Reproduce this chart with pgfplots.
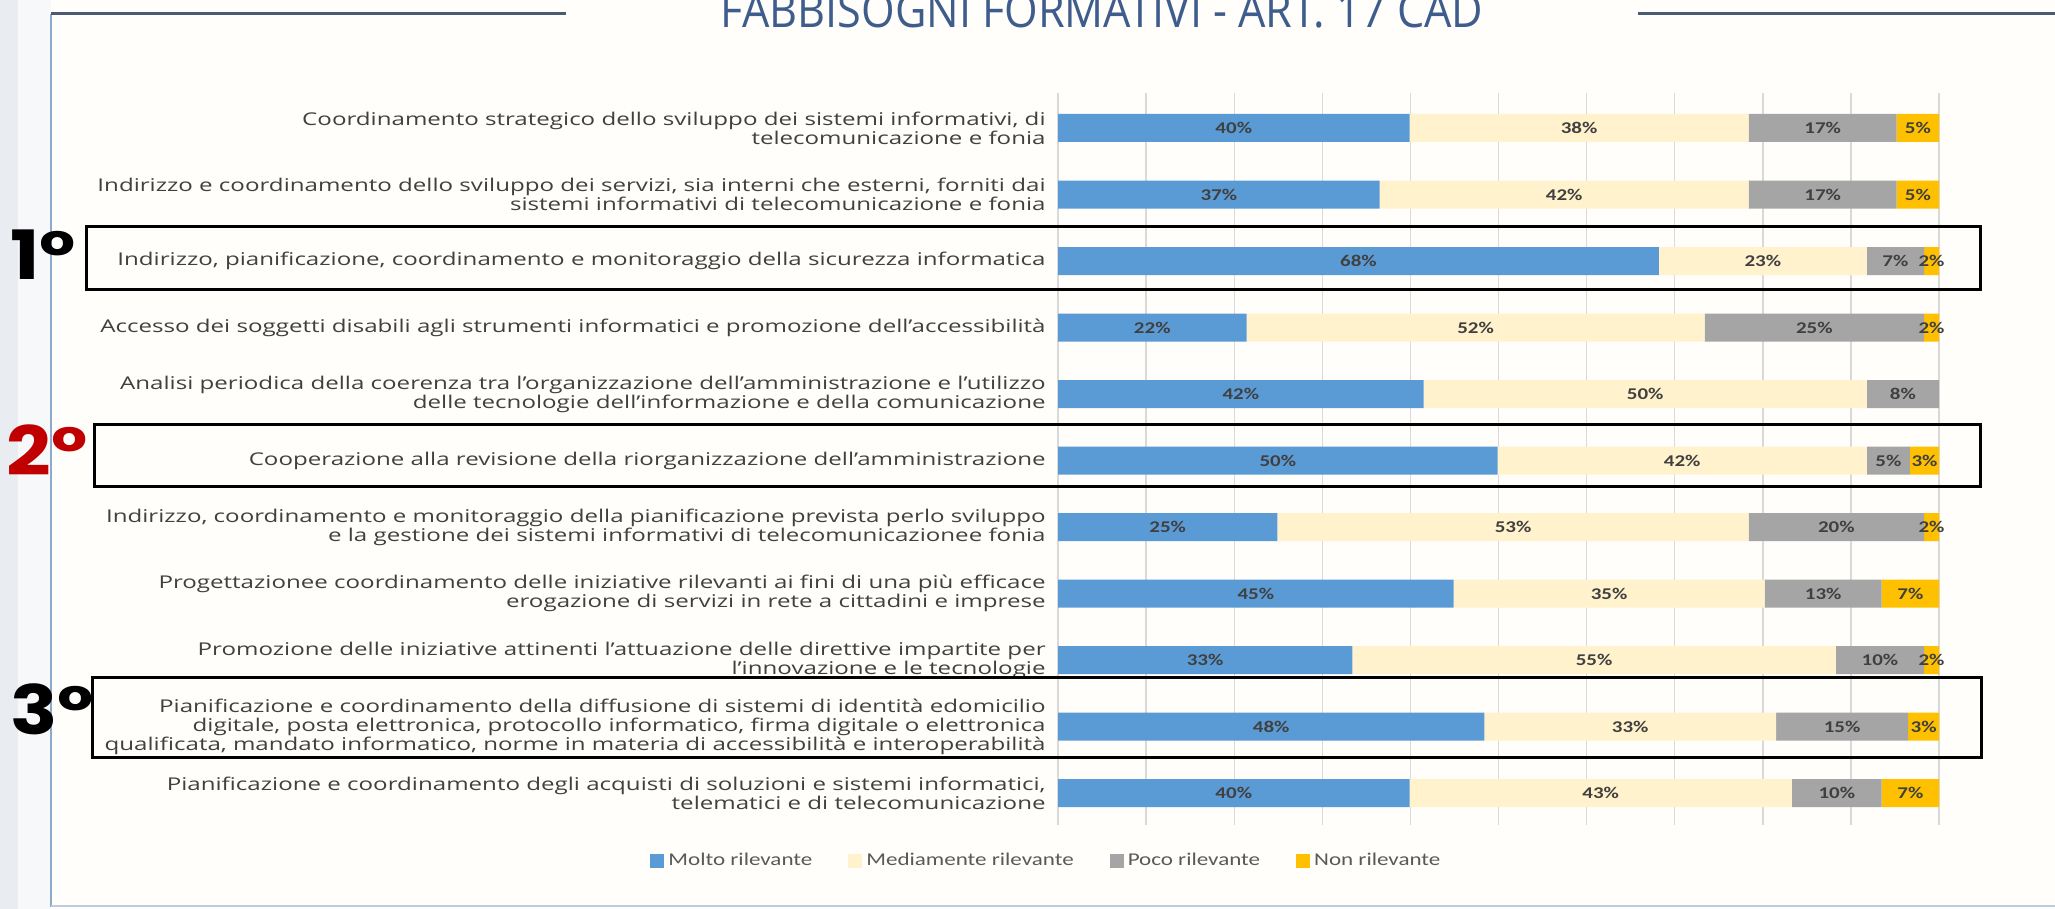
\documentclass[border=0pt]{standalone}
\usepackage{fontspec}
\usepackage{pgfplots}
\usepackage{pgfplotstable}
\pgfplotsset{compat=1.18}
\newfontfamily\labfont[FakeStretch=1.37]{Open Sans}
\newfontfamily\pctfont[FakeStretch=1.28]{Carlito}
\newfontfamily\titfont[FakeStretch=0.9]{Open Sans}
\newfontfamily\ordfont[FakeStretch=1.15]{Poppins}
\definecolor{cblue}{HTML}{5B9BD5}
\definecolor{ccream}{HTML}{FFF2CC}
\definecolor{cgray}{HTML}{A5A5A5}
\definecolor{cgold}{HTML}{FFC000}
\definecolor{labgray}{HTML}{404040}
\definecolor{leggray}{HTML}{595959}
\definecolor{titblue}{HTML}{3E5C8C}
\definecolor{ordred}{HTML}{C00000}
\definecolor{gridc}{HTML}{D9D9D9}
\definecolor{framel}{HTML}{8EA9CC}
\definecolor{framet}{HTML}{4B5B73}
\definecolor{bgleft}{HTML}{E9EDF2}
\definecolor{bgmid}{HTML}{F6F8FA}
\definecolor{bgin}{HTML}{FFFEFB}

\pgfplotstableread{
idx A B C D la lb lc ld
1 39.9 38.5 16.8 4.8 40\% 38\% 17\% 5\%
2 36.5 41.9 16.8 4.8 37\% 42\% 17\% 5\%
3 68.2 23.6 6.5 1.7 68\% 23\% 7\% 2\%
4 21.4 52.0 24.9 1.7 22\% 52\% 25\% 2\%
5 41.5 50.3 8.2 0 42\% 50\% 8\% {}
6 49.9 41.9 4.9 3.3 50\% 42\% 5\% 3\%
7 24.9 53.5 19.9 1.7 25\% 53\% 20\% 2\%
8 44.9 35.3 13.3 6.5 45\% 35\% 13\% 7\%
9 33.4 54.9 10.0 1.7 33\% 55\% 10\% 2\%
10 48.4 33.1 15.0 3.5 48\% 33\% 15\% 3\%
11 39.9 43.4 10.2 6.5 40\% 43\% 10\% 7\%
}\data

\pgfplotsset{
  common/.style={
    at={(529pt,-412.5pt)}, anchor=south west,
    scale only axis, width=440.5pt, height=366pt,
    xmin=0, xmax=100, ymin=0.474, ymax=11.48, y dir=reverse,
  }
}

\begin{document}
\begin{tikzpicture}
\useasboundingbox (0,0) rectangle (1027.5pt,-454.5pt);
\clip (0,0) rectangle (1027.5pt,-454.5pt);
\begin{scope}[x=0.5pt,y=-0.5pt]
\fill[bgin] (0,0) rectangle (2055,909);
\fill[bgmid] (0,0) rectangle (51,909);
\fill[bgleft] (0,0) rectangle (18,909);
\draw[framel, line width=1.25pt] (51,14) -- (51,907);
\draw[framel!60, line width=1pt] (51,906) -- (2055,906);
\draw[framet, line width=1.5pt] (51,14) -- (566,14);
\draw[framet, line width=1.5pt] (1638,14) -- (2055,14);
\node[anchor=base, font=\titfont\fontsize{24}{24}\selectfont, text=titblue, inner sep=0pt] at (1102,28) {FABBISOGNI FORMATIVI - ART. 17 CAD};
\end{scope}

\begin{axis}[common,
  xbar stacked, bar width=14pt,
  xtick={0,10,...,100}, xticklabels={}, xmajorgrids,
  major grid style={gridc, line width=0.7pt},
  ytick={1,...,11},
  yticklabels={
    {Coordinamento strategico dello sviluppo dei sistemi informativi, di\\telecomunicazione e fonia},
    {Indirizzo e coordinamento dello sviluppo dei servizi, sia interni che esterni, forniti dai\\sistemi informativi di telecomunicazione e fonia},
    {Indirizzo, pianificazione, coordinamento e monitoraggio della sicurezza informatica},
    {Accesso dei soggetti disabili agli strumenti informatici e promozione dell’accessibilità},
    {Analisi periodica della coerenza tra l’organizzazione dell’amministrazione e l’utilizzo\\delle tecnologie dell’informazione e della comunicazione},
    {Cooperazione alla revisione della riorganizzazione dell’amministrazione},
    {Indirizzo, coordinamento e monitoraggio della pianificazione prevista perlo sviluppo\\e la gestione dei sistemi informativi di telecomunicazionee fonia},
    {Progettazionee coordinamento delle iniziative rilevanti ai fini di una più efficace\\erogazione di servizi in rete a cittadini e imprese},
    {Promozione delle iniziative attinenti l’attuazione delle direttive impartite per\\l’innovazione e le tecnologie},
    {Pianificazione e coordinamento della diffusione di sistemi di identità edomicilio\\digitale, posta elettronica, protocollo informatico, firma digitale o elettronica\\qualificata, mandato informatico, norme in materia di accessibilità e interoperabilità},
    {Pianificazione e coordinamento degli acquisti di soluzioni e sistemi informatici,\\telematici e di telecomunicazione}
  },
  yticklabel style={align=right, font=\labfont\fontsize{8.8}{9.5}\selectfont, text=labgray, inner sep=0pt, xshift=-6pt},
  major tick length=0pt, axis line style={draw=none},
  legend columns=4,
  legend style={at={(-0.012,-0.049)}, anchor=center, draw=none, fill=none,
    font=\pctfont\fontsize{9}{10}\selectfont, text=leggray,
    /tikz/every even column/.append style={column sep=16pt}},
  legend image code/.code={\draw[#1, draw=none] (0pt,-3.5pt) rectangle (7pt,3.5pt);},
]
\addplot[fill=cblue, draw=none] table[x=A, y=idx] {\data};
\addplot[fill=ccream, draw=none] table[x=B, y=idx] {\data};
\addplot[fill=cgray, draw=none] table[x=C, y=idx] {\data};
\addplot[fill=cgold, draw=none] table[x=D, y=idx] {\data};
\legend{Molto rilevante, Mediamente rilevante, Poco rilevante, Non rilevante}
\end{axis}

\begin{axis}[common, hide axis,
  nodes near coords={\pgfplotspointmeta}, point meta=explicit symbolic,
  every node near coord/.append style={font=\pctfont\bfseries\fontsize{8.2}{9}\selectfont, text=labgray, anchor=center, inner sep=0pt},
]
\addplot[draw=none, mark=none] table[x expr=\thisrow{A}/2, y=idx, meta=la] {\data};
\addplot[draw=none, mark=none] table[x expr=\thisrow{A}+\thisrow{B}/2, y=idx, meta=lb] {\data};
\addplot[draw=none, mark=none] table[x expr=\thisrow{A}+\thisrow{B}+\thisrow{C}/2, y=idx, meta=lc] {\data};
\addplot[draw=none, mark=none] table[x expr=\thisrow{A}+\thisrow{B}+\thisrow{C}+\thisrow{D}/2, y=idx, meta=ld] {\data};
\end{axis}

\begin{scope}[x=0.5pt,y=-0.5pt]
\draw[black, line width=1.5pt] (86,227) rectangle (1980,289);
\draw[black, line width=1.5pt] (94,424) rectangle (1980,486);
\draw[black, line width=1.5pt] (92,677) rectangle (1981,757);
\node[anchor=base west, inner sep=0pt, font=\ordfont\bfseries\fontsize{34}{34}\selectfont] at (10,279) {1°};
\node[anchor=base west, inner sep=0pt, font=\ordfont\bfseries\fontsize{34}{34}\selectfont, text=ordred] at (6,475) {2°};
\node[anchor=base west, inner sep=0pt, font=\ordfont\bfseries\fontsize{34}{34}\selectfont] at (10,734) {3°};
\end{scope}
\end{tikzpicture}
\end{document}
